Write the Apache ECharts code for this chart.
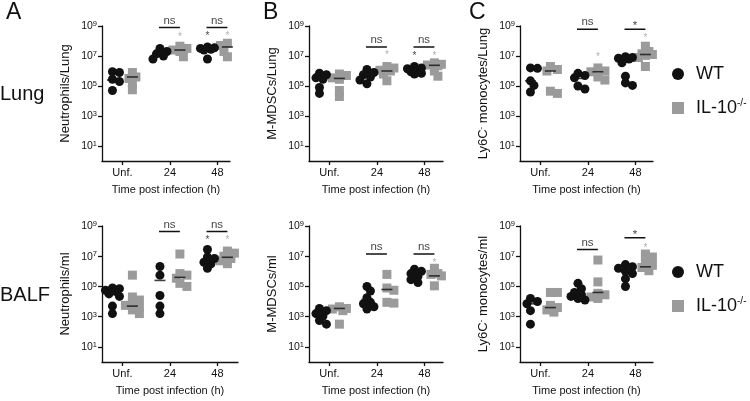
<!DOCTYPE html>
<html><head><meta charset="utf-8">
<script src="https://cdn.jsdelivr.net/npm/echarts@6/dist/echarts.min.js"></script>
<style>html,body{margin:0;padding:0;background:#fff}#c{width:750px;height:401px}</style>
</head><body><div id="c"></div>
<script>
const categories = ['Unf.', '24', '48'];
const yTicks = [1e1, 1e3, 1e5, 1e7, 1e9];

// ---- A / Lung: Neutrophils/Lung ----
const neutLungWT = [[8.9e5, 7.9e5, 2.8e5, 2e5, 5e4], [3.2e7, 2e7, 1.4e7, 1e7, 6.3e6], [4e7, 3.5e7, 3.2e7, 2.8e7, 2.5e7, 6.3e6]];
const neutLungKO = [[7.9e5, 4e5, 3.2e5, 1.4e5, 5.6e4], [4.5e7, 3.2e7, 2.5e7, 2e7, 8.9e6], [7.1e7, 6.3e7, 5e7, 3.2e7, 2e7, 8.9e6]];
const neutLungWTMid = [2.5e5, 1.4e7, 2.8e7];
const neutLungKOMid = [4e5, 2.5e7, 4e7];
const neutLungSig = [[1, 7.9e8, 'ns'], [2, 7.9e8, 'ns']];
const neutLungStars = [[1, 'ko', 2.5e8], [2, 'wt', 2.8e8], [2, 'ko', 2.8e8]];

// ---- B / Lung: M-MDSCs/Lung ----
const mdscLungWT = [[7.1e5, 5.6e5, 3.5e5, 2.8e5, 7.9e4, 3.2e4], [1.26e6, 7.9e5, 5.6e5, 4e5, 2.5e5, 1.4e5], [2e6, 1.58e6, 1.41e6, 1.26e6, 8.9e5, 7.1e5, 6.3e5]];
const mdscLungKO = [[6.3e5, 5e5, 3.5e5, 2.8e5, 5e4, 2e4], [2e6, 1.58e6, 1.12e6, 1e6, 6.3e5, 2.24e5], [3.5e6, 2.8e6, 2.5e6, 2.24e6, 1e6, 4.5e5]];
const mdscLungWTMid = [3.2e5, 4.7e5, 1.26e6];
const mdscLungKOMid = [3.2e5, 1e6, 2.4e6];
const mdscLungSig = [[1, 4e7, 'ns'], [2, 4e7, 'ns']];
const mdscLungStars = [[1, 'ko', 1.6e7], [2, 'wt', 1.4e7], [2, 'ko', 1.4e7]];

// ---- C / Lung: Ly6C- monocytes/Lung ----
const monoLungWT = [[1.6e6, 1.5e6, 2.2e5, 1.1e5, 4e4], [7e5, 5e5, 3.5e5, 1e5, 6.3e4], [8.9e6, 7.9e6, 7.1e6, 6.3e6, 3.5e6, 4.5e5, 1.6e5, 1.1e5]];
const monoLungKO = [[2e6, 1.26e6, 1e6, 4.5e4, 3.2e4], [1.6e6, 1e6, 8.9e5, 4e5, 2.5e5], [4.5e7, 2e7, 1.4e7, 1.26e7, 1.1e7, 7.9e6, 2e6]];
const monoLungWTMid = [2.2e5, 3.2e5, 5e6];
const monoLungKOMid = [1e6, 8.9e5, 1.26e7];
const monoLungSig = [[1, 6e8, 'ns'], [2, 6e8, '*']];
const monoLungStars = [[1, 'ko', 1.2e7], [2, 'ko', 2.1e8]];

// ---- A / BALF: Neutrophils/ml ----
const neutBalfWT = [[7.9e4, 7.1e4, 5.6e4, 4.5e4, 3.2e4, 2.2e4, 5e3, 1.6e3], [2.1e6, 5.6e5, 2.5e4, 5e3, 1.6e3], [2.8e7, 8.9e6, 7.1e6, 4e6, 3.2e6, 1.6e6]];
const neutBalfKO = [[5.6e5, 2e4, 1.26e4, 7.1e3, 5.6e3, 4e3, 2.8e3, 1.6e3], [1.4e7, 7.1e5, 5.6e5, 3.5e5, 1.6e5, 1e5], [2.2e7, 1.6e7, 1e7, 7.1e6, 5e6, 3.2e6]];
const neutBalfWTMid = [3.2e4, 2.5e5, 4e6];
const neutBalfKOMid = [5e3, 4e5, 8.5e6];
const neutBalfSig = [[1, 4.3e8, 'ns'], [2, 4.3e8, 'ns']];
const neutBalfStars = [[2, 'wt', 1.5e8], [2, 'ko', 1.5e8]];

// ---- B / BALF: M-MDSCs/ml ----
const mdscBalfWT = [[3.5e3, 2.5e3, 1.6e3, 1.1e3, 5.6e2, 3.2e2], [1e5, 5e4, 1.8e4, 8.9e3, 7.1e3, 4.5e3, 3.2e3], [1.4e6, 1e6, 7.1e5, 4.5e5, 2.8e5, 1.8e5]];
const mdscBalfKO = [[4.5e3, 3.5e3, 3.2e3, 2.5e3, 3.2e2], [6.3e5, 7.9e4, 5.6e4, 8.9e3, 7.9e3], [1.6e6, 7.1e5, 6.3e5, 5e5, 1.1e5]];
const mdscBalfWTMid = [1e3, 1.4e4, 5.6e5];
const mdscBalfKOMid = [3.5e3, 6.3e4, 5e5];
const mdscBalfSig = [[1, 1.4e7, 'ns'], [2, 1.4e7, 'ns']];
const mdscBalfStars = [[2, 'ko', 5e6]];

// ---- C / BALF: Ly6C- monocytes/ml ----
const monoBalfWT = [[1.6e4, 1e4, 7.1e3, 2.5e3, 3.2e2], [1.6e5, 7.1e4, 4e4, 2.8e4, 2.2e4, 1.6e4, 1.26e4], [2.8e6, 2e6, 1.6e6, 1e6, 7.1e5, 3.2e5, 1e5]];
const monoBalfKO = [[4e4, 4e4, 5.6e3, 4e3, 2.8e3, 2e3], [5.6e6, 2e5, 3.5e4, 2.8e4, 2e4, 1.6e4], [1.4e7, 8.9e6, 4e6, 2.5e6, 1.8e6, 1.1e6]];
const monoBalfWTMid = [7.1e3, 2.8e4, 1e6];
const monoBalfKOMid = [4e3, 4e4, 2e6];
const monoBalfSig = [[1, 2.8e7, 'ns'], [2, 1.66e8, '*']];
const monoBalfStars = [[2, 'ko', 4.7e7]];

const yNames = ['Neutrophils/Lung', 'M-MDSCs/Lung', 'Ly6C{s|-} monocytes/Lung', 'Neutrophils/ml', 'M-MDSCs/ml', 'Ly6C{s|-} monocytes/ml'];
const panelLetters = ['A', 'B', 'C'];
const rowLabels = ['Lung', 'BALF'];

// ---------- rendering ----------
const FONT = "'Liberation Sans', Arial, Helvetica, sans-serif";
const BLACK = '#111';
const GRAY = '#9b9b9b';
const X_MIN = -0.43, UNIT = 47.5, DEC = 15;
const WT_OFF = -0.21, KO_OFF = 0.21;

const panels = [
  {wt: neutLungWT, ko: neutLungKO, wtMid: neutLungWTMid, koMid: neutLungKOMid, sig: neutLungSig, stars: neutLungStars},
  {wt: mdscLungWT, ko: mdscLungKO, wtMid: mdscLungWTMid, koMid: mdscLungKOMid, sig: mdscLungSig, stars: mdscLungStars},
  {wt: monoLungWT, ko: monoLungKO, wtMid: monoLungWTMid, koMid: monoLungKOMid, sig: monoLungSig, stars: monoLungStars},
  {wt: neutBalfWT, ko: neutBalfKO, wtMid: neutBalfWTMid, koMid: neutBalfKOMid, sig: neutBalfSig, stars: neutBalfStars},
  {wt: mdscBalfWT, ko: mdscBalfKO, wtMid: mdscBalfWTMid, koMid: mdscBalfKOMid, sig: mdscBalfSig, stars: mdscBalfStars},
  {wt: monoBalfWT, ko: monoBalfKO, wtMid: monoBalfWTMid, koMid: monoBalfKOMid, sig: monoBalfSig, stars: monoBalfStars}
];
const layouts = [
  {left: 102, top: 26, w: 128, h: 135},
  {left: 309, top: 26, w: 134, h: 135},
  {left: 520, top: 26, w: 133, h: 135},
  {left: 102, top: 226, w: 136, h: 136},
  {left: 309, top: 226, w: 134, h: 136},
  {left: 520, top: 226, w: 133, h: 136}
];

// deterministic beeswarm spread (layout only)
function swarm(vals, center) {
  const minDist = 5.5;
  const order = vals.map((v, i) => i).sort((a, b) => vals[b] - vals[a]);
  const placed = [];
  const out = new Array(vals.length);
  const stepPx = 3.5;
  for (const i of order) {
    const ly = Math.log10(vals[i]) * DEC;
    let best = null, bestScore = -1;
    for (const c of [0, 1, -1, 2, -2]) {
      const ox = c * stepPx;
      const d = placed.length ? Math.min(...placed.map(p => Math.hypot(p.ox - ox, p.ly - ly))) : Infinity;
      if (d >= minDist) { best = c; break; }
      if (d > bestScore) { bestScore = d; best = c; }
    }
    placed.push({ox: best * stepPx, ly});
    out[i] = [center + best * stepPx / UNIT, vals[i]];
  }
  return out;
}

const grids = [], xAxes = [], yAxes = [], series = [];
const axisLineStyle = {color: BLACK, width: 1.3};
panels.forEach((p, i) => {
  const L = layouts[i];
  grids.push({left: L.left, top: L.top, width: L.w, height: L.h, containLabel: false, outerBoundsMode: 'none'});
  xAxes.push({
    type: 'value', gridIndex: i, min: X_MIN, max: X_MIN + L.w / UNIT,
    axisLine: {show: true, onZero: false, lineStyle: axisLineStyle},
    axisTick: {show: true, customValues: [0, 1, 2], length: 4, lineStyle: axisLineStyle},
    axisLabel: {customValues: [0, 1, 2], formatter: v => categories[Math.round(v)], color: BLACK, fontSize: 11, fontFamily: FONT, margin: 6},
    splitLine: {show: false},
    name: 'Time post infection (h)', nameLocation: 'middle', nameGap: 23,
    nameTextStyle: {color: BLACK, fontSize: 11, fontFamily: FONT}
  });
  yAxes.push({
    type: 'log', logBase: 10, gridIndex: i, min: 1, max: 1e9,
    axisLine: {show: true, onZero: false, lineStyle: axisLineStyle},
    axisTick: {show: true, customValues: yTicks, length: 4, lineStyle: axisLineStyle},
    minorTick: {show: false},
    axisLabel: {
      customValues: yTicks, margin: 5,
      formatter: v => '{b|10}{s|' + Math.round(Math.log10(v)) + '}',
      rich: {
        b: {fontSize: 10.5, fontFamily: FONT, color: BLACK, lineHeight: 12, verticalAlign: 'bottom'},
        s: {fontSize: 7.5, fontFamily: FONT, color: BLACK, lineHeight: 8, verticalAlign: 'top'}
      }
    },
    splitLine: {show: false},
    name: yNames[i], nameLocation: 'middle', nameGap: 30,
    nameTextStyle: {color: BLACK, fontSize: 13, fontFamily: FONT,
      rich: {s: {fontSize: 8, fontFamily: FONT, color: BLACK, verticalAlign: 'top', lineHeight: 8}}}
  });
  const wtData = [], koData = [];
  categories.forEach((c, ci) => {
    wtData.push(...swarm(p.wt[ci], ci + WT_OFF));
    koData.push(...swarm(p.ko[ci], ci + KO_OFF));
  });
  series.push({type: 'scatter', name: 'WT', xAxisIndex: i, yAxisIndex: i, symbol: 'circle', symbolSize: 9,
    itemStyle: {color: BLACK, opacity: 1}, data: wtData, z: 3, silent: true});
  series.push({type: 'scatter', name: 'IL-10-/-', xAxisIndex: i, yAxisIndex: i, symbol: 'rect', symbolSize: 9,
    itemStyle: {color: GRAY, opacity: 1}, data: koData, z: 2, silent: true});
  const mids = [];
  categories.forEach((c, ci) => { mids.push([ci + WT_OFF, p.wtMid[ci]]); mids.push([ci + KO_OFF, p.koMid[ci]]); });
  series.push({type: 'scatter', xAxisIndex: i, yAxisIndex: i, symbol: 'rect', symbolSize: [11, 1.6],
    itemStyle: {color: BLACK}, data: mids, z: 4, silent: true});
  p.sig.forEach(s => {
    series.push({type: 'line', xAxisIndex: i, yAxisIndex: i, symbol: 'none', silent: true,
      lineStyle: {color: BLACK, width: 1.5}, data: [[s[0] + WT_OFF - 0.02, s[1]], [s[0] + KO_OFF, s[1]]], z: 4});
  });
  series.push({type: 'scatter', xAxisIndex: i, yAxisIndex: i, symbolSize: 0, silent: true,
    data: p.sig.map(s => ({value: [s[0] + (WT_OFF + KO_OFF) / 2 - 0.01, s[1]], label: {formatter: s[2], offset: s[2] === '*' ? [0, 4] : [0, 0]}})),
    label: {show: true, position: 'top', distance: 1, color: BLACK, fontSize: 11.5, fontFamily: FONT}, z: 5});
  series.push({type: 'scatter', xAxisIndex: i, yAxisIndex: i, symbolSize: 0, silent: true,
    data: p.stars.map(s => ({value: [s[0] + (s[1] === 'wt' ? WT_OFF : KO_OFF), s[2]],
      label: {color: s[1] === 'wt' ? BLACK : GRAY}})),
    label: {show: true, position: 'inside', formatter: '*', fontSize: 10, fontFamily: FONT, offset: [0, 2]}, z: 5});
});

const legends = [60, 258].map(top => ({
  orient: 'vertical', left: 667, top: top, itemWidth: 12, itemHeight: 12, itemGap: 15, selectedMode: false,
  data: [{name: 'WT', icon: 'circle'}, {name: 'IL-10-/-', icon: 'rect'}],
  formatter: n => n === 'WT' ? '{a|WT}' : '{a|IL-10}{s|-/-}',
  textStyle: {rich: {
    a: {fontSize: 18, fontFamily: FONT, color: BLACK, lineHeight: 20, padding: [0, 0, 0, 7]},
    s: {fontSize: 10, fontFamily: FONT, color: BLACK, lineHeight: 10, verticalAlign: 'top'}
  }}
}));

const graphic = [];
const letterX = [6, 263, 469];
panelLetters.forEach((t, k) => graphic.push({type: 'text', x: letterX[k], y: 13,
  style: {text: t, fontSize: 23, fontFamily: FONT, fill: BLACK, verticalAlign: 'middle', align: 'left'}}));
rowLabels.forEach((t, k) => graphic.push({type: 'text', x: 0, y: k ? 295 : 94,
  style: {text: t, fontSize: 20, fontFamily: FONT, fill: BLACK, verticalAlign: 'middle', align: 'left'}}));

const chart = echarts.init(document.getElementById('c'), null, {renderer: 'canvas'});
chart.setOption({
  animation: false, backgroundColor: '#fff',
  grid: grids, xAxis: xAxes, yAxis: yAxes, series: series, legend: legends, graphic: graphic
});
</script></body></html>
